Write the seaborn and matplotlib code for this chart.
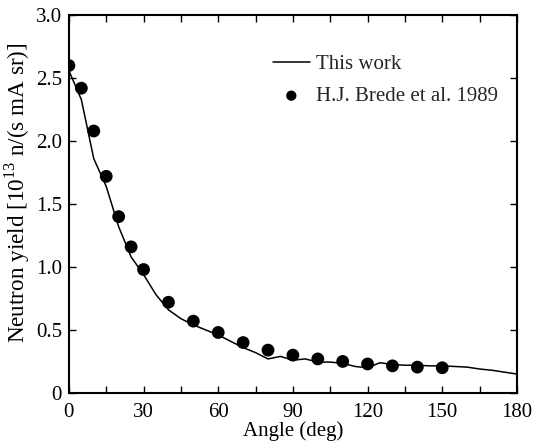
import numpy as np
import pandas as pd
import matplotlib
matplotlib.use('Agg')
import matplotlib.pyplot as plt
import seaborn as sns
from matplotlib.ticker import MultipleLocator, FuncFormatter

# calculated yield (this work)
calc_angle = [0, 5, 10, 15, 20, 25, 30, 35, 40, 45, 50, 55, 60, 65, 70, 75, 80, 85, 90,
              95, 100, 105, 110, 115, 120, 125, 130, 135, 140, 145, 150, 155, 160, 165,
              170, 175, 180]
calc_yield = [2.56, 2.33, 1.86, 1.64, 1.32, 1.08, 0.94, 0.78, 0.66, 0.59, 0.54, 0.50, 0.46,
              0.41, 0.36, 0.32, 0.27, 0.29, 0.26, 0.27, 0.245, 0.245, 0.235, 0.21, 0.20,
              0.24, 0.225, 0.22, 0.22, 0.215, 0.215, 0.21, 0.205, 0.19, 0.18, 0.165, 0.15]

# measured yield (Brede et al.)
meas_angle = [0, 5, 10, 15, 20, 25, 30, 40, 50, 60, 70, 80, 90, 100, 110, 120, 130, 140, 150]
meas_yield = [2.60, 2.42, 2.08, 1.72, 1.40, 1.16, 0.98, 0.72, 0.57, 0.48, 0.40, 0.34, 0.30,
              0.27, 0.25, 0.23, 0.215, 0.205, 0.20]

calc = pd.DataFrame({'angle': calc_angle, 'yield': calc_yield})
meas = pd.DataFrame({'angle': meas_angle, 'yield': meas_yield})

sns.set_theme(style='ticks')
plt.rcParams['font.family'] = ['Liberation Serif', 'DejaVu Serif']
plt.rcParams['mathtext.fontset'] = 'custom'
plt.rcParams['mathtext.rm'] = 'Liberation Serif'
plt.rcParams['font.size'] = 15

fig = plt.figure(figsize=(5.34, 4.46), dpi=100)
ax = fig.add_axes([0.129, 0.119, 0.839, 0.847])

sns.lineplot(data=calc, x='angle', y='yield', color='black', linewidth=1.1,
             label='This work', ax=ax)
sns.scatterplot(data=meas, x='angle', y='yield', color='black', s=85, edgecolor='none',
                label='H.J. Brede et al. 1989', ax=ax, zorder=3)

ax.set_xlim(0, 180)
ax.set_ylim(0, 3.0)
ax.xaxis.set_major_locator(MultipleLocator(30))
ax.xaxis.set_minor_locator(MultipleLocator(15))
ax.yaxis.set_major_locator(MultipleLocator(0.5))
ax.yaxis.set_major_formatter(FuncFormatter(lambda v, p: '0' if v == 0 else f'{v:.1f}'))
ax.tick_params(which='both', direction='in', top=True, right=True, labelsize=15,
               color='black', labelcolor='black', width=1)
ax.tick_params(which='major', length=5)
ax.tick_params(which='minor', length=5)
ax.tick_params(axis='x', which='major', pad=7)
ax.tick_params(axis='y', which='major', pad=5)
for s in ax.spines.values():
    s.set_linewidth(1.5)
    s.set_color('black')

ax.set_xlabel('Angle (deg)', fontsize=15, labelpad=0, color='black')
ax.set_ylabel('Neutron yield [10$^{13}$ n/(s mA sr)]', fontsize=16.7, labelpad=2,
              color='black')
ax.yaxis.set_label_coords(-0.082, 0.53)

ax.legend(loc='upper left', bbox_to_anchor=(0.436, 0.918), frameon=False, fontsize=15,
          handlelength=1.8, handletextpad=0.3, labelspacing=0.6, borderaxespad=0,
          markerscale=0.8)

fig.savefig('out.png', dpi=100)
